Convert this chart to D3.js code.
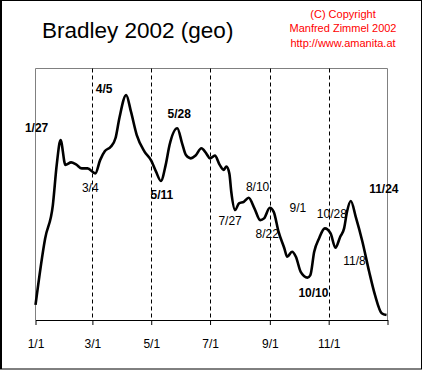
<!DOCTYPE html>
<html>
<head>
<meta charset="utf-8">
<script src="https://cdn.jsdelivr.net/npm/d3@7"></script>
<style>
    body { margin: 0; background: #fff; }
    svg text { font-family: "Liberation Sans", Arial, sans-serif; }
</style>
</head>
<body>
<svg id="chart" width="423" height="370"></svg>
<script>

// Data (2002): dates as month/day, values in arbitrary index units
const dates = [
    '1/1', '1/11', '1/19', '1/23', '1/27', '2/1', '2/7', '2/12', '2/18', '2/24',
    '3/4', '3/9', '3/14', '3/20', '3/25', '3/29', '4/5', '4/10', '4/16', '4/24',
    '5/1', '5/6', '5/11', '5/16', '5/20', '5/28', '6/2', '6/6', '6/11', '6/16',
    '6/22', '6/27', '7/1', '7/6', '7/11', '7/15', '7/18', '7/21', '7/23', '7/27',
    '7/31', '8/5', '8/10', '8/16', '8/22', '8/26', '9/1', '9/5', '9/10', '9/16',
    '9/19', '9/24', '9/28', '10/3', '10/10', '10/13', '10/17', '10/22', '10/28', '11/3',
    '11/8', '11/13', '11/17', '11/20', '11/24', '11/29', '12/6', '12/13', '12/19', '12/26',
    '12/31'
];
const values = [
    6.0, 32.5, 45.8, 61.8, 71.7, 61.8, 62.8, 62.0, 60.4, 60.4,
    58.4, 63.7, 67.3, 69.0, 72.5, 80.5, 89.6, 83.0, 73.7, 67.1,
    63.5, 59.1, 55.4, 61.8, 69.7, 76.4, 70.4, 65.7, 64.4, 65.5,
    68.4, 66.4, 64.4, 65.5, 61.8, 59.8, 61.1, 58.4, 51.1, 43.8,
    46.5, 47.1, 48.7, 44.5, 39.8, 40.5, 44.7, 43.1, 35.2, 28.6,
    25.2, 27.2, 25.2, 19.2, 16.9, 17.9, 27.2, 32.5, 36.5, 34.5,
    28.8, 33.2, 36.5, 43.1, 47.4, 41.2, 31.2, 19.2, 10.0, 2.7,
    2.0
];

const tickLabels = ['1/1', '3/1', '5/1', '7/1', '9/1', '11/1'];

// turning points that get a label
const turnDates = ['1/27', '4/5', '5/28', '3/4', '5/11', '7/27', '8/10', '8/22', '9/1', '10/28', '11/24', '10/10', '11/8'];
const turnBold  = [true, true, true, false, true, false, false, false, false, false, true, true, false];

const TITLE = 'Bradley 2002 (geo)';
const COPYRIGHT = ['(C) Copyright', 'Manfred Zimmel 2002', 'http://www.amanita.at'];

// label offsets from their point [dx, dy]
const LABEL_OFFSET = {
    '1/27': [-24, -8], '4/5': [-22, -2], '5/28': [2, -10], '3/4': [-5, 19],
    '5/11': [1, 18], '7/27': [-5, 15], '8/10': [9, -7], '8/22': [7, 18],
    '9/1': [28, 4], '10/28': [7, -10], '11/24': [33, -8], '10/10': [6, 19],
    '11/8': [19, 17]
};

const W = 423, H = 370;
const PLOT = { left: 35.5, right: 387.5, top: 68.5, bottom: 320 };

const parse = (s) => {
    let [m, d] = s.split('/').map(Number);
    return new Date(2002, m - 1, d);
};

const series = dates.map((d, i) => ({ date: parse(d), value: values[i], key: d }));
const byKey = new Map(series.map((p) => [p.key, p]));

const x = d3.scaleTime()
    .domain([new Date(2002, 0, 1), new Date(2003, 0, 1)])
    .range([PLOT.left, PLOT.right]);
const y = d3.scaleLinear()
    .domain([0, 100])
    .range([PLOT.bottom, 69]);

const svg = d3.select('#chart');

// outer frame
svg.append('rect')
    .attr('x', 0.5).attr('y', 0.5)
    .attr('width', 421).attr('height', 368.5)
    .attr('fill', 'white').attr('stroke', 'black').attr('stroke-width', 1);
svg.append('line')
    .attr('x1', 1.5).attr('x2', 1.5).attr('y1', 0).attr('y2', 369)
    .attr('stroke', 'black');

// plot frame (gray)
svg.append('path')
    .attr('d', 'M' + PLOT.left + ',' + PLOT.bottom + 'V' + PLOT.top + 'H' + PLOT.right + 'V' + PLOT.bottom)
    .attr('fill', 'none').attr('stroke', '#808080');

// dashed month lines
const gridDates = tickLabels.slice(1).map(parse);
svg.append('g').selectAll('line').data(gridDates)
    .enter().append('line')
    .attr('x1', (d) => Math.round(x(d)) + 0.5)
    .attr('x2', (d) => Math.round(x(d)) + 0.5)
    .attr('y1', PLOT.top)
    .attr('y2', PLOT.bottom)
    .attr('stroke', 'black')
    .attr('stroke-dasharray', '4,3');

// x axis
const tickDates = tickLabels.map(parse).concat([new Date(2003, 0, 1)]);
const xAxis = d3.axisBottom(x)
    .tickValues(tickDates)
    .tickSize(5)
    .tickSizeOuter(0)
    .tickPadding(14)
    .tickFormat((d, i) => tickLabels[i] || '');

svg.append('g')
    .attr('transform', 'translate(0,' + PLOT.bottom + ')')
    .call(xAxis)
    .call((g) => g.selectAll('path, line').attr('stroke', 'black'))
    .call((g) => g.selectAll('text')
        .attr('font-size', 12)
        .attr('fill', 'black')
        .attr('font-family', '"Liberation Sans", Arial, sans-serif'));

// the curve
const line = d3.line()
    .x((p) => x(p.date))
    .y((p) => y(p.value))
    .curve(d3.curveMonotoneX);

svg.append('path')
    .datum(series)
    .attr('d', line)
    .attr('fill', 'none')
    .attr('stroke', 'black')
    .attr('stroke-width', 2.6)
    .attr('stroke-linejoin', 'round');

// turning point labels
svg.append('g').selectAll('text').data(turnDates)
    .enter().append('text')
    .attr('x', (k) => x(byKey.get(k).date) + LABEL_OFFSET[k][0])
    .attr('y', (k) => y(byKey.get(k).value) + LABEL_OFFSET[k][1])
    .attr('text-anchor', 'middle')
    .attr('font-size', 12)
    .attr('font-weight', (k, i) => turnBold[i] ? 'bold' : 'normal')
    .text((k) => k);

// title
svg.append('text')
    .attr('x', 42).attr('y', 38)
    .attr('font-size', 22.5)
    .text(TITLE);

// copyright block
svg.append('g').selectAll('text').data(COPYRIGHT)
    .enter().append('text')
    .attr('x', 343)
    .attr('y', (t, i) => 18 + i * 14.3)
    .attr('text-anchor', 'middle')
    .attr('font-size', 11)
    .attr('fill', 'red')
    .text((t) => t);

</script>
</body>
</html>
